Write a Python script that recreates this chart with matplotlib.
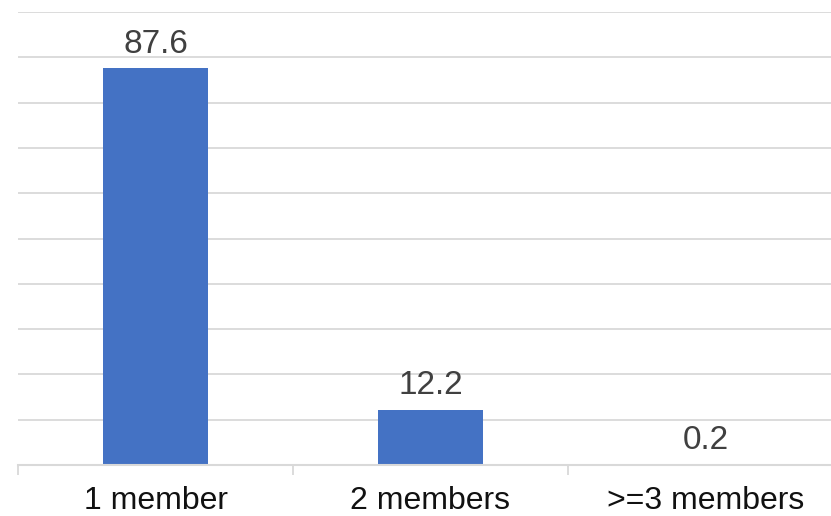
import matplotlib
matplotlib.use('Agg')
import matplotlib.pyplot as plt

categories = ['1 member', '2 members', '>=3 members']
values = [87.6, 12.2, 0.2]
value_labels = ['87.6', '12.2', '0.2']

plt.rcParams['font.family'] = ['Liberation Sans', 'DejaVu Sans']

fig = plt.figure(figsize=(8.31, 5.16), dpi=100)
ax = fig.add_axes([18 / 831, 51 / 516, 825 / 831, 453 / 516])

x = range(len(categories))
bars = ax.bar(x, values, width=0.385, color='#4472C4', zorder=2)

ax.set_xlim(-0.5, 2.5)
ax.set_ylim(0, 100)
ax.set_yticks(range(0, 101, 10))
ax.yaxis.grid(True, color='#D9D9D9', linewidth=1.3, zorder=0)
ax.set_axisbelow(True)
ax.tick_params(axis='y', left=False, labelleft=False)

ax.set_xticks(list(x))
ax.set_xticklabels(categories, fontsize=23, color='#111111')
ax.tick_params(axis='x', which='major', length=0, pad=15)
ax.set_xticks([-0.5, 0.5, 1.5, 2.5], minor=True)
ax.tick_params(axis='x', which='minor', length=7, width=1.3, color='#D9D9D9')

for s in ['top', 'right', 'left']:
    ax.spines[s].set_visible(False)
ax.spines['bottom'].set_color('#D9D9D9')
ax.spines['bottom'].set_linewidth(1.5)
ax.spines['bottom'].set_zorder(3)

for b, lab in zip(bars, value_labels):
    ax.annotate(lab, (b.get_x() + b.get_width() / 2, b.get_height()),
                xytext=(0, 6), textcoords='offset points',
                ha='center', va='bottom', fontsize=24, color='#404040')

fig.savefig('out.png', dpi=100)
